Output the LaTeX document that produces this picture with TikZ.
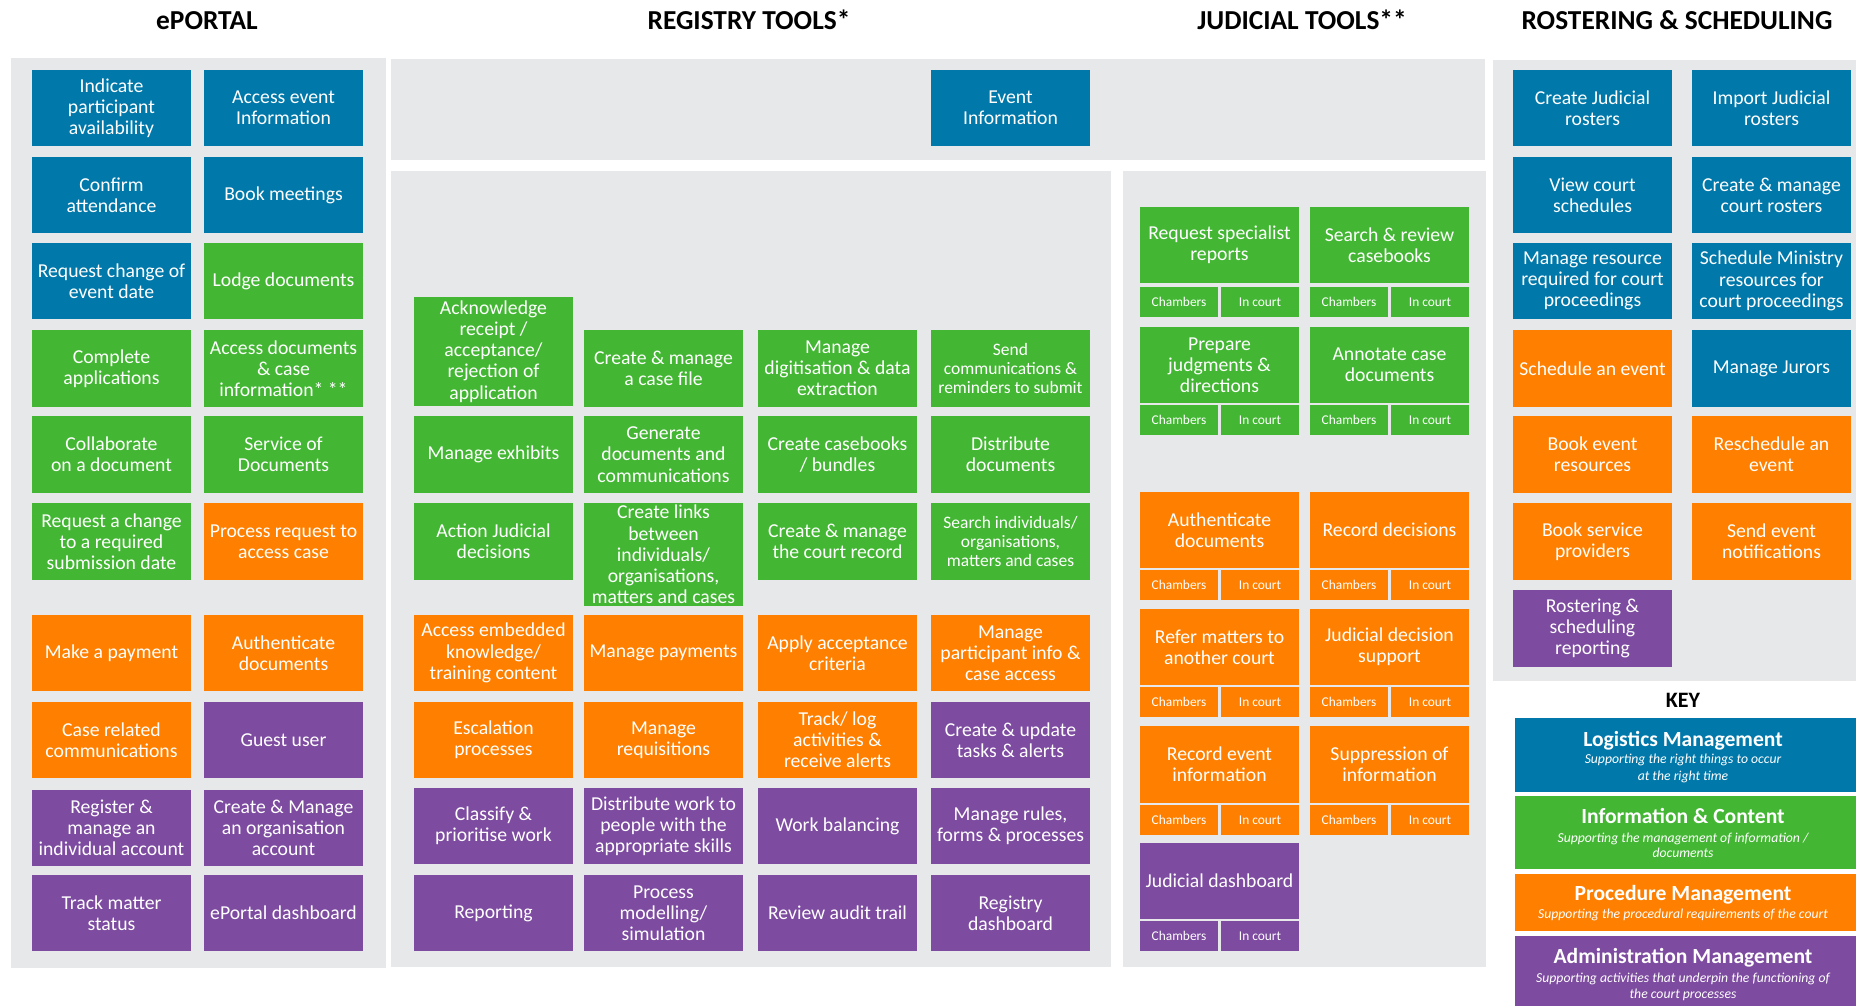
\documentclass[tikz,border=0pt]{standalone}
\usepackage{fontspec}
\setmainfont{Carlito}
\definecolor{cBlue}{RGB}{0,120,170}
\definecolor{cGreen}{RGB}{67,183,51}
\definecolor{cOrange}{RGB}{255,128,0}
\definecolor{cPurple}{RGB}{125,75,160}
\definecolor{cPanel}{RGB}{231,232,234}

% Chambers / In court tags under a judicial tool, centred on the tool's x
\newcommand\jtags[4]{%
  \node[tag,fill=#2] (#1-ch) at ({#3-40.5},#4) {Chambers};
  \node[tag,fill=#2] (#1-ic) at ({#3+40.5},#4) {In court};}

\begin{document}
\begin{tikzpicture}[x=1pt,y=-1pt,
  cell/.style={rectangle, inner sep=0pt, minimum width=159pt, minimum height=76.5pt,
    align=center, text=white, font=\fontsize{19.7}{21.2}\selectfont},
  small/.style={font=\fontsize{17.5}{19}\selectfont},
  blu/.style={cell, fill=cBlue},
  grn/.style={cell, fill=cGreen},
  org/.style={cell, fill=cOrange},
  pur/.style={cell, fill=cPurple},
  tag/.style={rectangle, inner sep=0pt, minimum width=78pt, minimum height=30pt,
    text=white, font=\fontsize{13.4}{15}\selectfont},
  heading/.style={anchor=base, font=\bfseries\fontsize{27.4}{31}\selectfont},
  keybox/.style={rectangle, inner sep=0pt, minimum width=341pt},
  keytitle/.style={anchor=base, text=white, font=\bfseries\fontsize{21.6}{24}\selectfont},
  keysub/.style={anchor=base, text=white, font=\itshape\fontsize{13.7}{16}\selectfont},
]
\useasboundingbox (0,0) rectangle (1856,1005);

% ---- background panels
\fill[cPanel] (11,58) rectangle (386,968);
\fill[cPanel] (391,59) rectangle (1485,160);
\fill[cPanel] (391,171) rectangle (1111,967);
\fill[cPanel] (1123,171) rectangle (1486,967);
\fill[cPanel] (1493,60) rectangle (1856,681);

% ---- column headings
\node[heading] (hEp)  at (207,29)  {ePORTAL};
\node[heading] (hReg) at (749,29)  {REGISTRY TOOLS*};
\node[heading] (hJud) at (1302,29) {JUDICIAL TOOLS**};
\node[heading] (hRos) at (1677,29) {ROSTERING \& SCHEDULING};

% ---- ePortal
\node[blu] (ep1)  at (111.5,108)   {Indicate\\participant\\availability};
\node[blu] (ep2)  at (283.5,108)   {Access event\\Information};
\node[blu] (ep3)  at (111.5,195)   {Confirm\\attendance};
\node[blu] (ep4)  at (283.5,195)   {Book meetings};
\node[blu] (ep5)  at (111.5,281)   {Request change of\\event date};
\node[grn] (ep6)  at (283.5,281)   {Lodge documents};
\node[grn] (ep7)  at (111.5,368.5) {Complete\\applications};
\node[grn] (ep8)  at (283.5,368.5) {Access documents\\\& case\\information* **};
\node[grn] (ep9)  at (111.5,454.5) {Collaborate\\on a document};
\node[grn] (ep10) at (283.5,454.5) {Service of\\Documents};
\node[grn] (ep11) at (111.5,541.5) {Request a change\\to a required\\submission date};
\node[org] (ep12) at (283.5,541.5) {Process request to\\access case};
\node[org] (ep13) at (111.5,653)   {Make a payment};
\node[org] (ep14) at (283.5,653)   {Authenticate\\documents};
\node[org] (ep15) at (111.5,740)   {Case related\\communications};
\node[pur] (ep16) at (283.5,740)   {Guest user};
\node[pur] (ep17) at (111.5,828)   {Register \&\\manage an\\individual account};
\node[pur] (ep18) at (283.5,828)   {Create \& Manage\\an organisation\\account};
\node[pur] (ep19) at (111.5,913)   {Track matter\\status};
\node[pur] (ep20) at (283.5,913)   {ePortal dashboard};

% ---- Registry tools
\node[blu] (ev) at (1010.5,108) {Event\\Information};
\node[grn, minimum height=109pt] (rg1) at (493.5,351.5) {Acknowledge\\receipt /\\acceptance/\\rejection of\\application};
\node[grn] (rg2)  at (663.5,368.5)  {Create \& manage\\a case file};
\node[grn] (rg3)  at (837.5,368.5)  {Manage\\digitisation \& data\\extraction};
\node[grn, small] (rg4) at (1010.5,368.5) {Send\\communications \&\\reminders to submit};
\node[grn] (rg5)  at (493.5,454.5)  {Manage exhibits};
\node[grn] (rg6)  at (663.5,454.5)  {Generate\\documents and\\communications};
\node[grn] (rg7)  at (837.5,454.5)  {Create casebooks\\/ bundles};
\node[grn] (rg8)  at (1010.5,454.5) {Distribute\\documents};
\node[grn] (rg9)  at (493.5,541.5)  {Action Judicial\\decisions};
\node[grn, minimum height=103pt] (rg10) at (663.5,554.5) {Create links\\between\\individuals/\\organisations,\\matters and cases};
\node[grn] (rg11) at (837.5,541.5)  {Create \& manage\\the court record};
\node[grn, small] (rg12) at (1010.5,541.5) {Search individuals/\\organisations,\\matters and cases};
\node[org] (rg13) at (493.5,653)    {Access embedded\\knowledge/\\training content};
\node[org] (rg14) at (663.5,653)    {Manage payments};
\node[org] (rg15) at (837.5,653)    {Apply acceptance\\criteria};
\node[org] (rg16) at (1010.5,653)   {Manage\\participant info \&\\case access};
\node[org] (rg17) at (493.5,740)    {Escalation\\processes};
\node[org] (rg18) at (663.5,740)    {Manage\\requisitions};
\node[org] (rg19) at (837.5,740)    {Track/ log\\activities \&\\receive alerts};
\node[pur] (rg20) at (1010.5,740)   {Create \& update\\tasks \& alerts};
\node[pur] (rg21) at (493.5,826)    {Classify \&\\prioritise work};
\node[pur] (rg22) at (663.5,826)    {Distribute work to\\people with the\\appropriate skills};
\node[pur] (rg23) at (837.5,826)    {Work balancing};
\node[pur] (rg24) at (1010.5,826)   {Manage rules,\\forms \& processes};
\node[pur] (rg25) at (493.5,913)    {Reporting};
\node[pur] (rg26) at (663.5,913)    {Process\\modelling/\\simulation};
\node[pur] (rg27) at (837.5,913)    {Review audit trail};
\node[pur] (rg28) at (1010.5,913)   {Registry\\dashboard};

% ---- Judicial tools
\node[grn] (jt1)  at (1219.5,245)   {Request specialist\\reports};
\jtags{jt1}{cGreen}{1219.5}{302}
\node[grn] (jt2)  at (1389.5,245)   {Search \& review\\casebooks};
\jtags{jt2}{cGreen}{1389.5}{302}
\node[grn] (jt3)  at (1219.5,365)   {Prepare\\judgments \&\\directions};
\jtags{jt3}{cGreen}{1219.5}{420}
\node[grn] (jt4)  at (1389.5,365)   {Annotate case\\documents};
\jtags{jt4}{cGreen}{1389.5}{420}
\node[org] (jt5)  at (1219.5,530)   {Authenticate\\documents};
\jtags{jt5}{cOrange}{1219.5}{585}
\node[org] (jt6)  at (1389.5,530)   {Record decisions};
\jtags{jt6}{cOrange}{1389.5}{585}
\node[org] (jt7)  at (1219.5,647)   {Refer matters to\\another court};
\jtags{jt7}{cOrange}{1219.5}{702}
\node[org] (jt8)  at (1389.5,647)   {Judicial decision\\support};
\jtags{jt8}{cOrange}{1389.5}{702}
\node[org] (jt9)  at (1219.5,764.5) {Record event\\information};
\jtags{jt9}{cOrange}{1219.5}{820}
\node[org] (jt10) at (1389.5,764.5) {Suppression of\\information};
\jtags{jt10}{cOrange}{1389.5}{820}
\node[pur] (jt11) at (1219.5,881)   {Judicial dashboard};
\jtags{jt11}{cPurple}{1219.5}{936}

% ---- Rostering & scheduling
\node[blu] (rs1)  at (1592.5,108)   {Create Judicial\\rosters};
\node[blu] (rs2)  at (1771.5,108)   {Import Judicial\\rosters};
\node[blu] (rs3)  at (1592.5,195)   {View court\\schedules};
\node[blu] (rs4)  at (1771.5,195)   {Create \& manage\\court rosters};
\node[blu] (rs5)  at (1592.5,281)   {Manage resource\\required for court\\proceedings};
\node[blu] (rs6)  at (1771.5,281)   {Schedule Ministry\\resources for\\court proceedings};
\node[org] (rs7)  at (1592.5,368.5) {Schedule an event};
\node[blu] (rs8)  at (1771.5,368.5) {Manage Jurors};
\node[org] (rs9)  at (1592.5,454.5) {Book event\\resources};
\node[org] (rs10) at (1771.5,454.5) {Reschedule an\\event};
\node[org] (rs11) at (1592.5,541.5) {Book service\\providers};
\node[org] (rs12) at (1771.5,541.5) {Send event\\notifications};
\node[pur] (rs13) at (1592.5,628.5) {Rostering \&\\scheduling\\reporting};

% ---- Key
\node[anchor=base, font=\bfseries\fontsize{22}{26}\selectfont] (kh) at (1683,707) {KEY};
\node[keybox, fill=cBlue,   minimum height=74pt] (k1) at (1685.5,755) {};
\node[keybox, fill=cGreen,  minimum height=73pt] (k2) at (1685.5,832.5) {};
\node[keybox, fill=cOrange, minimum height=57pt] (k3) at (1685.5,902.5) {};
\node[keybox, fill=cPurple, minimum height=76pt] (k4) at (1685.5,974) {};
\node[keytitle] (k1t) at (1683,746) {Logistics Management};
\node[keysub] (k1a) at (1683,763) {Supporting the right things to occur};
\node[keysub] (k1b) at (1683,780) {at the right time};
\node[keytitle] (k2t) at (1683,823) {Information \& Content};
\node[keysub] (k2a) at (1683,842) {Supporting the management of information /};
\node[keysub] (k2b) at (1683,857) {documents};
\node[keytitle] (k3t) at (1683,900) {Procedure Management};
\node[keysub] (k3a) at (1683,918) {Supporting the procedural requirements of the court};
\node[keytitle] (k4t) at (1683,963) {Administration Management};
\node[keysub] (k4a) at (1683,982) {Supporting activities that underpin the functioning of};
\node[keysub] (k4b) at (1683,998) {the court processes};
\end{tikzpicture}
\end{document}
